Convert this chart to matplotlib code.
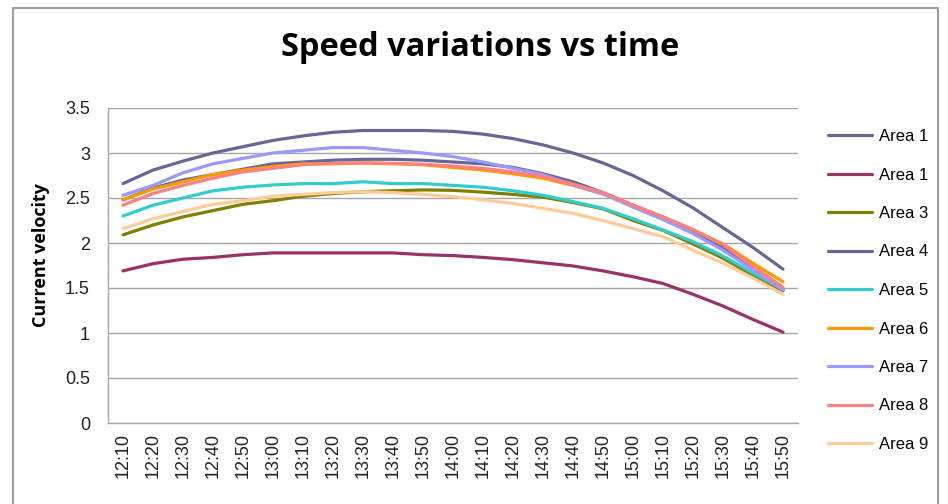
import numpy as np
import matplotlib
matplotlib.use('Agg')
import matplotlib.pyplot as plt
from matplotlib.patches import Rectangle

# time axis
times = ['12:10', '12:20', '12:30', '12:40', '12:50', '13:00', '13:10', '13:20',
         '13:30', '13:40', '13:50', '14:00', '14:10', '14:20', '14:30', '14:40',
         '14:50', '15:00', '15:10', '15:20', '15:30', '15:40', '15:50']

# series values
area1 = [2.66, 2.81, 2.91, 3.00, 3.07, 3.14, 3.19, 3.23, 3.25, 3.25, 3.25, 3.24,
         3.21, 3.16, 3.09, 3.00, 2.89, 2.75, 2.58, 2.39, 2.17, 1.95, 1.71]
area1b = [1.69, 1.77, 1.82, 1.84, 1.87, 1.89, 1.89, 1.89, 1.89, 1.89, 1.87, 1.86,
          1.84, 1.815, 1.78, 1.745, 1.69, 1.625, 1.55, 1.43, 1.30, 1.15, 1.01]
area3 = [2.09, 2.20, 2.29, 2.36, 2.43, 2.47, 2.52, 2.55, 2.57, 2.58, 2.59, 2.585,
         2.565, 2.54, 2.51, 2.45, 2.38, 2.25, 2.14, 1.99, 1.83, 1.64, 1.47]
area4 = [2.48, 2.61, 2.70, 2.76, 2.82, 2.88, 2.90, 2.92, 2.93, 2.93, 2.92, 2.90,
         2.88, 2.84, 2.77, 2.68, 2.56, 2.42, 2.28, 2.12, 1.95, 1.72, 1.48]
area5 = [2.30, 2.42, 2.50, 2.58, 2.62, 2.645, 2.66, 2.66, 2.68, 2.66, 2.66, 2.64,
         2.62, 2.58, 2.53, 2.46, 2.385, 2.27, 2.145, 2.015, 1.855, 1.665, 1.485]
area6 = [2.48, 2.60, 2.68, 2.76, 2.81, 2.85, 2.88, 2.88, 2.89, 2.88, 2.87, 2.84,
         2.81, 2.77, 2.72, 2.64, 2.545, 2.42, 2.29, 2.145, 1.99, 1.775, 1.57]
area7 = [2.53, 2.64, 2.78, 2.88, 2.94, 3.00, 3.03, 3.06, 3.06, 3.03, 3.00, 2.96,
         2.90, 2.83, 2.76, 2.645, 2.545, 2.40, 2.26, 2.105, 1.92, 1.70, 1.48]
area8 = [2.42, 2.55, 2.64, 2.72, 2.79, 2.83, 2.87, 2.885, 2.89, 2.885, 2.875, 2.855,
         2.83, 2.79, 2.74, 2.655, 2.56, 2.42, 2.29, 2.15, 1.98, 1.74, 1.51]
area9 = [2.16, 2.27, 2.35, 2.43, 2.47, 2.52, 2.54, 2.56, 2.57, 2.56, 2.54, 2.515,
         2.48, 2.44, 2.385, 2.33, 2.25, 2.16, 2.07, 1.92, 1.775, 1.61, 1.43]

series = [area1, area1b, area3, area4, area5, area6, area7, area8, area9]
labels = ['Area 1', 'Area 1', 'Area 3', 'Area 4', 'Area 5', 'Area 6', 'Area 7', 'Area 8', 'Area 9']
colors = ['#666699', '#993366', '#808000', '#666699', '#33CCCC', '#FF9900',
          '#9999FF', '#FF8080', '#FFCC99']

plt.rcParams['font.family'] = ['Liberation Sans', 'DejaVu Sans']

W, H = 948, 504
fig = plt.figure(figsize=(W / 100, H / 100), dpi=100)
fig.patch.set_facecolor('white')

# chart area border
fig.patches.append(Rectangle((13 / W, -0.1), (938 - 13) / W, 1.1 - 8 / H,
                             transform=fig.transFigure, fill=False,
                             edgecolor='#8c8c8c', linewidth=1.2))

ax = fig.add_axes([108 / W, 1 - 423 / H, (798 - 108) / W, (423 - 108) / H])

x = np.arange(len(times))
for vals, lab, col in zip(series, labels, colors):
    ax.plot(x, vals, color=col, linewidth=2.3, label=lab, solid_capstyle='round')

ax.set_xlim(-0.5, len(times) - 0.5)
ax.set_ylim(0, 3.5)
ax.set_yticks(np.arange(0, 3.51, 0.5))
ax.set_yticklabels(['0', '0.5', '1', '1.5', '2', '2.5', '3', '3.5'])
ax.set_xticks(x)
ax.set_xticklabels(times, rotation=90)
ax.yaxis.grid(True, color='#a6a6a6', linewidth=1.0)
ax.set_axisbelow(True)
for s in ['top', 'right']:
    ax.spines[s].set_visible(False)
for s in ['left', 'bottom']:
    ax.spines[s].set_color('#a6a6a6')
    ax.spines[s].set_linewidth(1.0)
ax.tick_params(axis='both', length=0, labelsize=13, colors='#222222')
ax.tick_params(axis='y', pad=13)
ax.tick_params(axis='x', pad=7)

ax.set_ylabel('Current velocity', fontsize=13, fontweight='bold', family='Open Sans')
ax.yaxis.set_label_coords((50 - 108) / 690, (423 - 255) / 315)

fig.text(480 / W, 1 - 47 / H, 'Speed variations vs time', ha='center', va='center',
         fontsize=23.5, fontweight='bold', family='Open Sans')

ax.legend(loc='upper left', bbox_to_anchor=(813 / W, 1 - 114 / H),
          bbox_transform=fig.transFigure, frameon=False, fontsize=12,
          handlelength=2.65, handletextpad=0.4, labelspacing=1.41)

fig.savefig('out.png', dpi=100)
